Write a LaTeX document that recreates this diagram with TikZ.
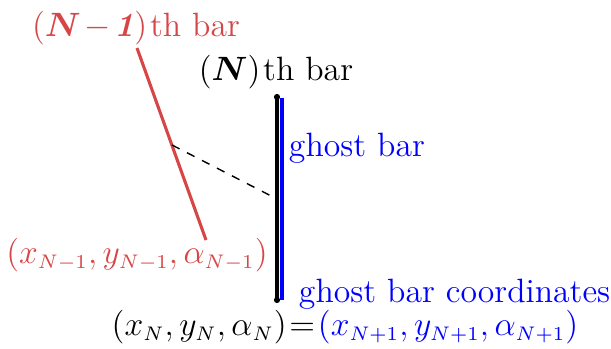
\documentclass[tikz,border=0pt]{standalone}
\usepackage{amsmath,bm}
\DeclareMathSizes{12}{12}{7}{5}
\definecolor{barred}{RGB}{215,70,70}
\definecolor{gblue}{RGB}{0,0,255}
\begin{document}
\begin{tikzpicture}[x=0.356pt,y=-0.356pt,
  every node/.style={font=\large},
  lbl/.style={inner sep=0pt,outer sep=0pt},
  dotend/.style={fill=black,circle,inner sep=0pt,minimum size=2.2pt}]
\useasboundingbox (0,0) rectangle (611,349);
% coordinates
\coordinate (Ntop) at (277,97);
\coordinate (Nbot) at (277,300);
\coordinate (Gtop) at (282,98);
\coordinate (Gbot) at (282,300);
\coordinate (Rtop) at (137,48);
\coordinate (Rbot) at (206,240);
\coordinate (Rmid) at (172,145);
\coordinate (Nmid) at (277,199);
% bars
\draw[gblue,line width=1.1pt] (Gtop) -- (Gbot);
\draw[black,line width=1.5pt] (Ntop) -- (Nbot);
\node[dotend] (dt) at (Ntop) {};
\node[dotend] (db) at (Nbot) {};
\draw[barred,line width=1.1pt] (Rtop) -- (Rbot);
\draw[dashed,line width=0.5pt] (Rmid) -- (Nmid);
% labels
\node[lbl,text=barred] (lr) at (136,28) {$(\bm{N}\mkern-2mu-\mkern-2mu\textbf{\textit{1}})$\hspace{1pt}th bar};
\node[lbl] (ln) at (276,72) {$(\bm{N})$\hspace{1pt}th bar};
\node[lbl,text=gblue,anchor=west] (lg) at (289,148) {ghost bar};
\node[lbl,text=barred] (lrc) at (137,255) {$(x_{N-1},y_{N-1},\alpha_{N-1})$};
\node[lbl,text=gblue,anchor=west] (lgc) at (299,294) {ghost bar coordinates};
\node[lbl] (lb) at (345,327) {$(x_N,y_N,\alpha_N)$\hspace{1pt}=\hspace{1pt}\textcolor{gblue}{$(x_{N+1},y_{N+1},\alpha_{N+1})$}};
\end{tikzpicture}
\end{document}
